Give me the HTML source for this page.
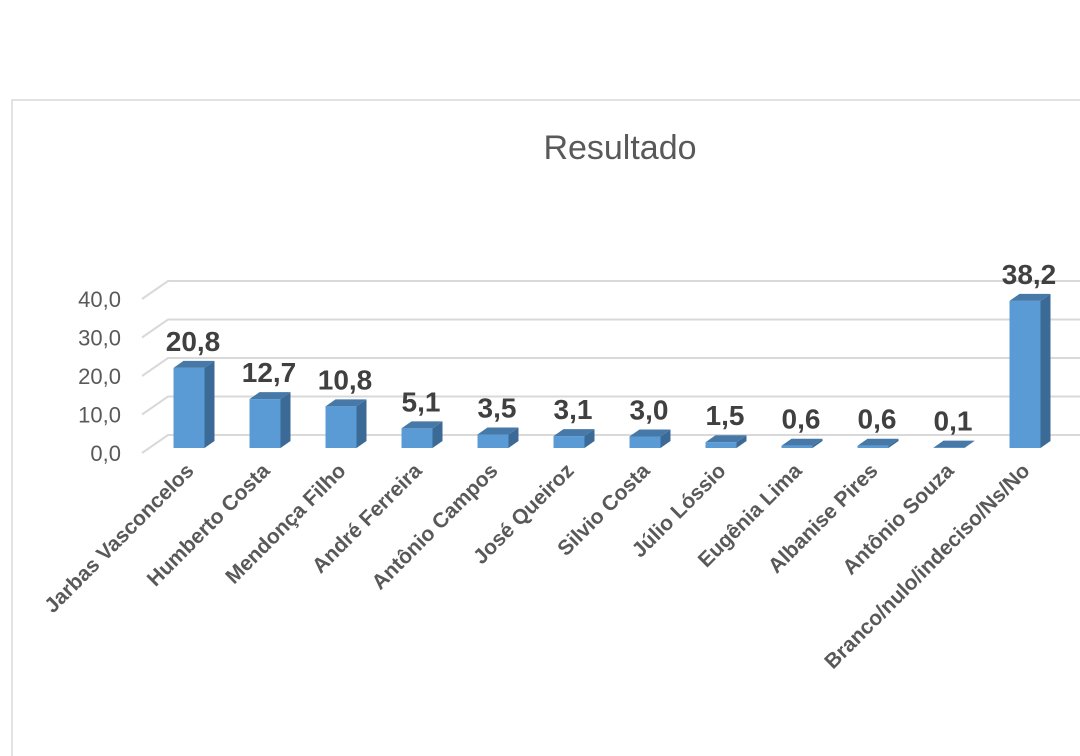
<!DOCTYPE html>
<html><head><meta charset="utf-8"><style>
html,body{margin:0;padding:0;background:#fff;width:1080px;height:756px;overflow:hidden}
svg{display:block;font-family:"Liberation Sans",sans-serif}
</style></head><body>
<svg id="chart" width="1080" height="756">
<rect x="12" y="100" width="1080" height="670" fill="#fff" stroke="#d9d9d9" stroke-width="1.5"/>
<text x="620" y="159" text-anchor="middle" font-size="34" fill="#595959">Resultado</text>
<g id="grid"></g><g id="bars"></g><g id="labels"></g>
</svg>
<script>
const categories=["Jarbas Vasconcelos","Humberto Costa","Mendonça Filho","André Ferreira","Antônio Campos","José Queiroz","Silvio Costa","Júlio Lóssio","Eugênia Lima","Albanise Pires","Antônio Souza","Branco/nulo/indeciso/Ns/No"];
const values=[20.8,12.7,10.8,5.1,3.5,3.1,3.0,1.5,0.6,0.6,0.1,38.2];
const valueLabels=["20,8","12,7","10,8","5,1","3,5","3,1","3,0","1,5","0,6","0,6","0,1","38,2"];
const ticks=[0,10,20,30,40];
const tickLabels=["0,0","10,0","20,0","30,0","40,0"];
const NS="http://www.w3.org/2000/svg";
const base=448, scale=3.85, x0=189, step=76, bw=31, dx=10, dy=7;
const backDx=26, backDy=-18;
const y=v=>base-v*scale;
const xc=i=>x0+i*step;
function mk(t,a,p){const e=document.createElementNS(NS,t);for(const k in a)e.setAttribute(k,a[k]);p.appendChild(e);return e;}
const g=document.getElementById('grid');
ticks.forEach((t,i)=>{
  const fy=y(t)+5;
  const l1=mk('polyline',{points:`${142},${fy} ${142+backDx},${fy+backDy} 1080,${fy+backDy}`,fill:'none',stroke:'#d9d9d9','stroke-width':2},g);
  
  
  const tx=mk('text',{x:121,y:fy+8,'text-anchor':'end','font-size':22,fill:'#595959'},g);
  tx.textContent=tickLabels[i];
  
  
});
const b=document.getElementById('bars'), lb=document.getElementById('labels');
values.forEach((v,i)=>{
  const L=xc(i)-bw/2, R=L+bw, T=y(v);
  const grp=mk('g',{},b);
  
  
  mk('polygon',{points:`${R},${T} ${R+dx},${T-dy} ${R+dx},${base-dy} ${R},${base}`,fill:'#3b6a96'},grp);
  mk('polygon',{points:`${L},${T} ${L+dx},${T-dy} ${R+dx},${T-dy} ${R},${T}`,fill:'#4678a8'},grp);
  mk('rect',{x:L,y:T,width:bw,height:base-T,fill:'#5b9bd5'},grp);
  const vt=mk('text',{x:xc(i)+4,y:T-17,'text-anchor':'middle','font-size':28,'font-weight':'bold',fill:'#404040'},lb);
  vt.textContent=valueLabels[i];
  
  
  const ct=mk('text',{x:0,y:0,'text-anchor':'end','font-size':21,'font-weight':'bold',fill:'#595959',transform:`translate(${xc(i)+6},${472}) rotate(-45)`},lb);
  ct.textContent=categories[i];
  
  
});
</script>
</body></html>
